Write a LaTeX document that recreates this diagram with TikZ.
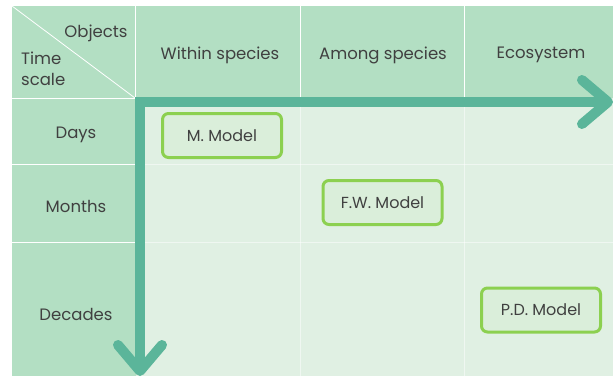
\documentclass[tikz,border=0pt]{standalone}
\usepackage{fontspec}
\setmainfont{Poppins}
\usetikzlibrary{arrows.meta}
\usetikzlibrary{positioning}

\definecolor{headgreen}{RGB}{179,223,195}
\definecolor{bodygreen}{RGB}{224,240,227}
\definecolor{axisteal}{RGB}{91,181,154}
\definecolor{boxline}{RGB}{140,208,80}
\definecolor{boxfill}{RGB}{218,238,218}
\definecolor{textgray}{RGB}{64,64,64}

\tikzset{
    lbl/.style={text=textgray, font=\fontsize{16.5}{19}\selectfont, inner sep=0pt},
    model/.style={draw=boxline, line width=3pt, fill=boxfill, rounded corners=6pt,
        minimum width=119pt, minimum height=44pt, text=textgray,
        font=\fontsize{16}{18}\selectfont},
    gridline/.style={white, line width=0.8pt},
    axis/.style={axisteal, line width=10pt,
        {Straight Barb[length=26pt,width=44pt,round]}-{Straight Barb[length=26pt,width=44pt,round]}}
}

\begin{document}
\begin{tikzpicture}[x=1pt,y=-1pt]
        \useasboundingbox (0,0) rectangle (613,376);
        % cells
        \fill[bodygreen] (12,6) rectangle (613,376);
        \fill[headgreen] (12,6) rectangle (613,98);
        \fill[headgreen] (12,98) rectangle (136,376);
        \draw[gridline] (12,6) -- (135,98);
        \draw[gridline] (135,6) -- (135,98);
        \draw[gridline] (300,6) -- (300,98);
        \draw[gridline] (464,6) -- (464,98);
        \draw[gridline] (12,98) -- (136,98);
        \draw[gridline] (12,164) -- (136,164);
        \draw[gridline] (12,242) -- (136,242);
        \draw[gridline, opacity=0.5] (145,164) -- (613,164);
        \draw[gridline, opacity=0.5] (145,242) -- (613,242);
        \draw[gridline, opacity=0.5] (300,107) -- (300,376);
        \draw[gridline, opacity=0.5] (464,107) -- (464,376);
        % header texts
        \node[lbl] (objects) at (96,33.5) {Objects};
        \node[lbl, anchor=west] (time) at (21,58) {Time};
        \node[lbl, anchor=west] (scale) at (21,79) {scale};
        \node[lbl] (within) at (220,55) {Within species};
        \node[lbl] (among) at (383,55) {Among species};
        \node[lbl] (ecosys) at (541,55) {Ecosystem};
        \node[lbl] (days) at (76,135) {Days};
        \node[lbl] (months) at (76,206) {Months};
        \node[lbl] (decades) at (76,314) {Decades};
        % axes
        \coordinate (origin) at (140,102);
        \coordinate (xend) at (613,102);
        \coordinate (yend) at (140,376);
        \draw[axis] (yend) -- (origin) -- (xend);
        % models
        \node[model] (mmodel) at (222,135.5) {M. Model};
        \node[model] (fwmodel) at (382.5,202.5) {F.W. Model};
        \node[model] (pdmodel) at (541,310) {P.D. Model};
    \end{tikzpicture}
\end{document}
